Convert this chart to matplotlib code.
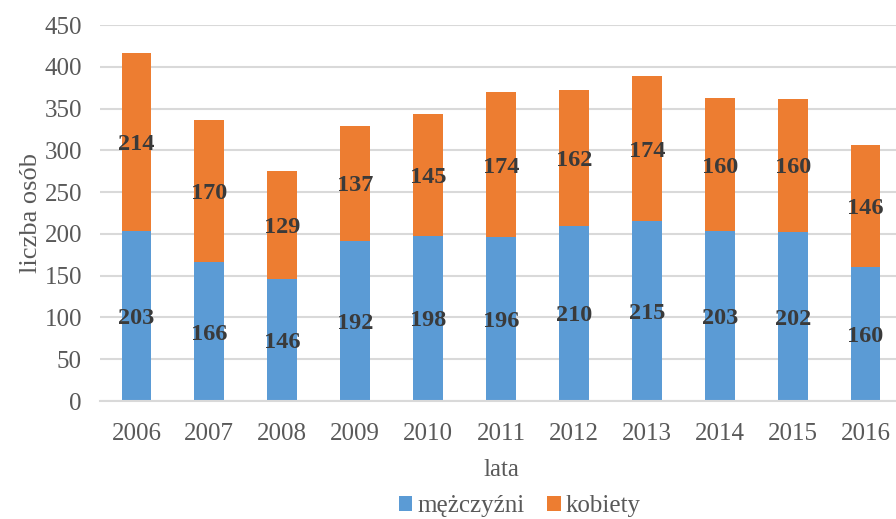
import matplotlib
matplotlib.use("Agg")
import matplotlib.pyplot as plt

years = ["2006", "2007", "2008", "2009", "2010", "2011", "2012", "2013", "2014", "2015", "2016"]
men = [203, 166, 146, 192, 198, 196, 210, 215, 203, 202, 160]
women = [214, 170, 129, 137, 145, 174, 162, 174, 160, 160, 146]

plt.rcParams['font.family'] = ['Liberation Serif', 'DejaVu Serif']

fig = plt.figure(figsize=(8.96, 5.19), dpi=100)
ax = fig.add_axes([100/896, 1 - 401/519, 802/896, 376/519])

x = list(range(len(years)))
blue = "#5B9BD5"
orange = "#ED7D31"
b1 = ax.bar(x, men, width=0.41, color=blue, label="mężczyźni", zorder=2)
b2 = ax.bar(x, women, width=0.41, bottom=men, color=orange, label="kobiety", zorder=2)

for i in x:
    ax.text(i, men[i] / 2, str(men[i]), ha="center", va="center_baseline", fontsize=17.5,
            fontweight="bold", color="#3A3A3A", zorder=3)
    ax.text(i, men[i] + women[i] / 2, str(women[i]), ha="center", va="center_baseline",
            fontsize=17.5, fontweight="bold", color="#3A3A3A", zorder=3)

ax.set_xlim(-0.5, len(years) - 0.5)
ax.set_ylim(0, 450)
ax.set_yticks(range(0, 451, 50))
ax.set_xticks(x)
ax.set_xticklabels(years)
ax.yaxis.grid(True, color="#D9D9D9", linewidth=1.5, zorder=0)
ax.set_axisbelow(True)
for s in ["top", "right", "left"]:
    ax.spines[s].set_visible(False)
ax.spines["bottom"].set_color("#D9D9D9")
ax.spines["bottom"].set_linewidth(1.5)
ax.tick_params(axis="both", length=0, labelsize=18, colors="#595959")
ax.tick_params(axis="y", pad=13)
ax.tick_params(axis="x", pad=16)
ax.set_xlabel("lata", fontsize=18, color="#595959", labelpad=10)
ax.set_ylabel("liczba osób", fontsize=19, color="#595959", labelpad=2)

fig.legend(handles=[b1, b2], loc="center", bbox_to_anchor=(0.58, 1 - 506/519), ncol=2,
           frameon=False, fontsize=18, labelcolor="#595959", handlelength=0.55,
           handleheight=0.55, handletextpad=0.2, columnspacing=0.9, borderpad=0.1)

fig.savefig("out.png", dpi=100)
